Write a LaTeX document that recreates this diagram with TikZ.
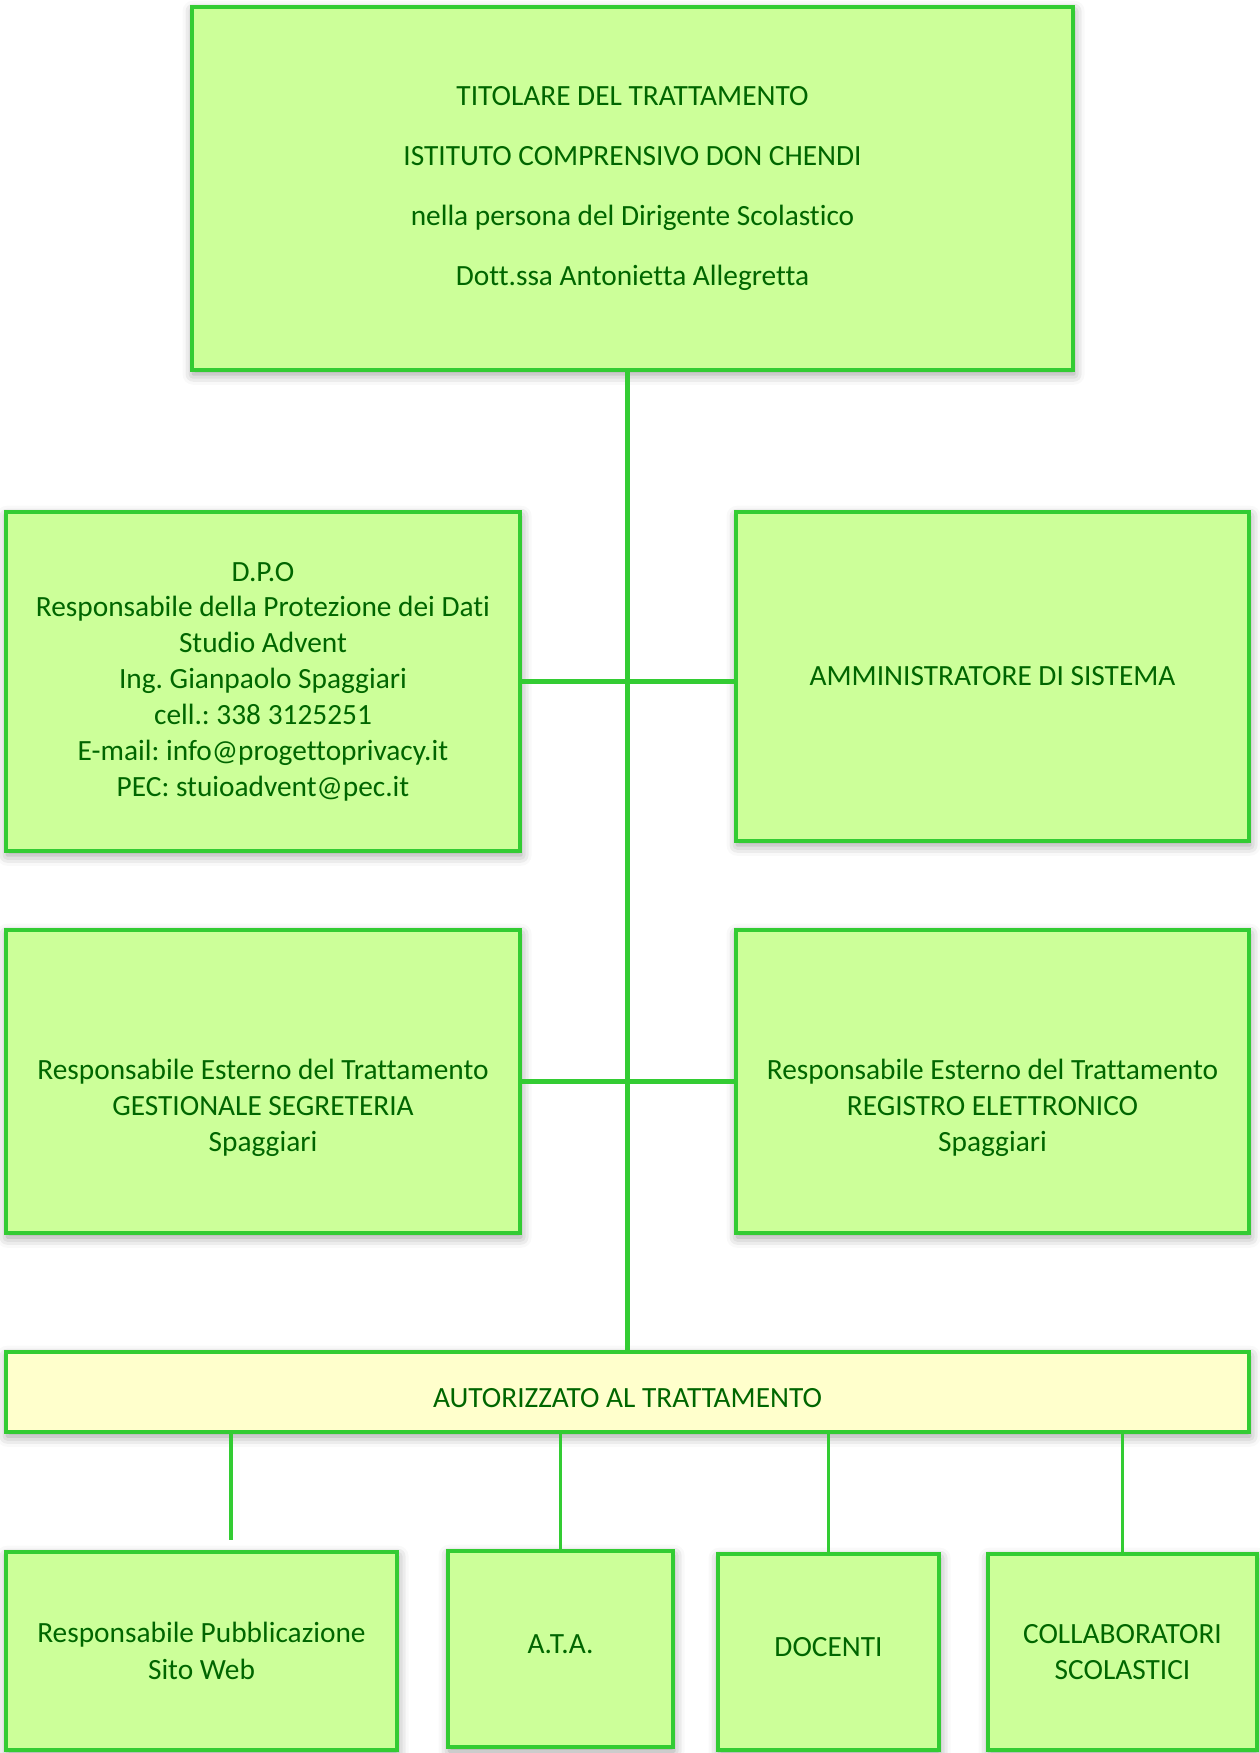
\documentclass[tikz,border=0pt]{standalone}
\usepackage{fontspec}
\setmainfont{Carlito}[Ligatures=NoCommon]
\usetikzlibrary{shadows.blur}
\definecolor{boxgreen}{RGB}{204,255,153}
\definecolor{linegreen}{RGB}{51,204,51}
\definecolor{textgreen}{RGB}{0,102,0}
\definecolor{boxyellow}{RGB}{255,255,204}
\frenchspacing
\begin{document}
\begin{tikzpicture}
	[line width=1.1pt, 
	main/.style = {draw=linegreen, fill=boxgreen, text=textgreen, align=center, inner sep=0pt,
		font=\fontsize{8.35pt}{10.2pt}\selectfont,
		blur shadow={shadow xshift=0.3pt, shadow yshift=-1.2pt, shadow blur radius=3pt, shadow opacity=40}},
	wide/.style = {main, fill=boxyellow},
	link/.style = {draw=linegreen, line width=1.2pt},
	drop/.style = {draw=linegreen, line width=0.9pt}] 
\useasboundingbox (0,0) rectangle (12.59,-17.53);
\node[main, minimum width=8.81cm, minimum height=3.63cm] (tit) at (6.325,-1.885) {TITOLARE DEL TRATTAMENTO\\[0.24cm]ISTITUTO COMPRENSIVO DON CHENDI\\[0.24cm]nella persona del Dirigente Scolastico\\[0.24cm]Dott.ssa Antonietta Allegretta}; 
\node[main, minimum width=5.14cm, minimum height=3.39cm] (dpo) at (2.63,-6.815) {D.P.O\\Responsabile della Protezione dei Dati\\Studio Advent\\Ing. Gianpaolo Spaggiari\\cell.: 338 3125251\\E-mail: info@progettoprivacy.it\\PEC: stuioadvent@pec.it}; 
\node[main, minimum width=5.13cm, minimum height=3.29cm] (amm) at (9.925,-6.765) {AMMINISTRATORE DI SISTEMA}; 
% text sits a bit below the middle here
\node[main, minimum width=5.14cm, minimum height=3.03cm, text height=41.1pt] (seg) at (2.63,-10.815) {Responsabile Esterno del Trattamento\\GESTIONALE SEGRETERIA\\Spaggiari}; 
\node[main, minimum width=5.13cm, minimum height=3.03cm, text height=41.1pt] (reg) at (9.925,-10.815) {Responsabile Esterno del Trattamento\\REGISTRO ELETTRONICO\\Spaggiari}; 
\node[wide, minimum width=12.43cm, minimum height=0.80cm, text height=8.6pt] (aut) at (6.275,-13.92) {AUTORIZZATO AL TRATTAMENTO}; 
\node[main, minimum width=3.91cm, minimum height=1.98cm] (web) at (2.015,-16.51) {Responsabile Pubblicazione\\[0.5pt]Sito Web}; 
\node[main, minimum width=2.25cm, minimum height=1.96cm, text depth=2.8pt] (ata) at (5.605,-16.49) {A.T.A.}; 
\node[main, minimum width=2.21cm, minimum height=1.96cm, text depth=2.8pt] (doc) at (8.285,-16.52) {DOCENTI}; 
\node[main, minimum width=2.69cm, minimum height=1.96cm] (col) at (11.225,-16.52) {COLLABORATORI\\SCOLASTICI}; 
\coordinate (webtop) at ([xshift=2.95mm, yshift=1mm]web.north);
\draw[link] (aut.north |- tit.south) -- (aut.north); 
\draw[link] (dpo.east) -- (dpo.east -| amm.west); 
\draw[link] (seg.east) -- (reg.west); 
\draw[drop] (webtop |- aut.south) -- (webtop); 
\draw[drop] (ata.north |- aut.south) -- (ata.north); 
\draw[drop] (doc.north |- aut.south) -- (doc.north); 
\draw[drop] (col.north |- aut.south) -- (col.north); 
\end{tikzpicture}
\end{document}
